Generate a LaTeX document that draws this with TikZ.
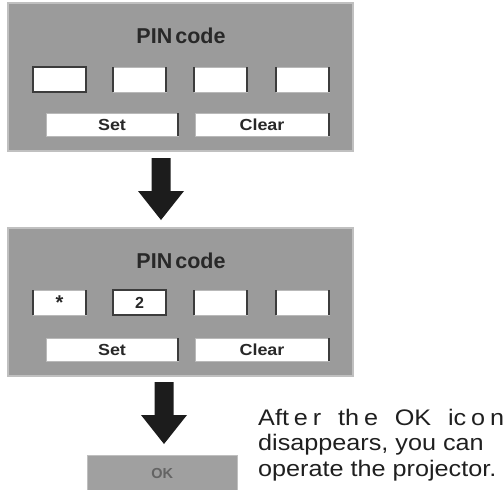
\documentclass[tikz,border=0pt]{standalone}
\usepackage{fontspec}
\setmainfont{Liberation Sans}
\newfontfamily\widefont[FakeStretch=1.12]{Liberation Sans}
\definecolor{panelgray}{RGB}{155,155,155}
\definecolor{panelline}{RGB}{192,192,192}
\definecolor{edgedark}{RGB}{60,60,60}
\definecolor{textdark}{RGB}{40,40,40}
\definecolor{okgray}{RGB}{160,160,160}
\definecolor{oktext}{RGB}{100,100,100}
\definecolor{arrowblack}{RGB}{28,28,28}
\begin{document}
\begin{tikzpicture}[x=1pt,y=-1pt,
  panel/.style={fill=panelgray,draw=panelline,line width=1.4pt,anchor=north west,
    minimum width=345pt,minimum height=148pt,inner sep=0pt,outer sep=0pt},
  entry/.style={fill=white,draw=gray!55,line width=0.5pt,anchor=north west,
    minimum width=53pt,minimum height=25pt,inner sep=0pt,outer sep=0pt,
    font=\bfseries\fontsize{16}{16}\selectfont,text=textdark},
  chosen/.style={entry,draw=edgedark,line width=2.2pt},
  button/.style={fill=white,draw=gray!55,line width=0.5pt,anchor=north west,
    minimum height=23pt,inner sep=0pt,outer sep=0pt,
    font=\widefont\bfseries\fontsize{16}{16}\selectfont,text=textdark},
  title/.style={font=\bfseries\fontsize{21.5}{21.5}\selectfont,text=textdark},
  edgeline/.style={draw=edgedark,line width=1.1pt},
  bigdown/.pic={\fill[arrowblack] (-9.5,0) -- (9.5,0) -- (9.5,33) -- (23,33)
    -- (0,62) -- (-23,33) -- (-9.5,33) -- cycle;}
]
\useasboundingbox (0,0) rectangle (504,490);

% ---- first panel ----
\node[panel] (p1) at (8,3) {};
\node[title] (t1) at (181,35.5) {{\spaceskip=0.14em\relax PIN code}};
\node[chosen] (e11) at (33,67) {};
\node[entry]  (e12) at (113,67) {};
\node[entry]  (e13) at (194,67) {};
\node[entry]  (e14) at (276,67) {};
\node[button,minimum width=132pt] (s1) at (46,113) {Set};
\node[button,minimum width=134pt] (c1) at (195,113) {Clear};

% ---- second panel ----
\node[panel] (p2) at (8,228) {};
\node[title] (t2) at (181,260.5) {{\spaceskip=0.14em\relax PIN code}};
\node[entry]  (e21) at (33,290) {\raisebox{-0.28em}{\fontsize{20}{20}\selectfont *}};
\node[chosen] (e22) at (113,290) {2};
\node[entry]  (e23) at (194,290) {};
\node[entry]  (e24) at (276,290) {};
\node[button,minimum width=132pt] (s2) at (46,338) {Set};
\node[button,minimum width=134pt] (c2) at (195,338) {Clear};

% dark side edges of the fields and buttons
\foreach \n in {e12,e13,e14,e21,e23,e24}{
  \draw[edgeline] (\n.north west) -- (\n.south west);
  \draw[edgeline] (\n.north east) -- (\n.south east);
}
\foreach \n in {s1,c1,s2,c2}{
  \draw[edgeline] (\n.north east) -- (\n.south east);
}

% ---- arrows ----
\coordinate (a1) at (161,158);
\coordinate (a2) at (164,382);
\pic (arrowone) at (a1) {bigdown};
\pic (arrowtwo) at (a2) {bigdown};

% ---- OK icon ----
\node[fill=okgray,draw=gray!50,line width=0.5pt,anchor=north west,
  minimum width=150pt,minimum height=36pt,inner sep=0pt,
  font=\bfseries\fontsize{14.5}{14.5}\selectfont,text=oktext] (ok) at (87,455) {OK};

% ---- explanation ----
\node[anchor=base west,inner sep=0pt,align=left,text=black!88,
  font=\widefont\fontsize{22.5}{25.5}\selectfont] (note) at (258,476)
  {\hbox to 246pt{Aft\hfil e\hfil r \hskip0pt plus 2fil th\hfil e \hskip0pt plus 2fil OK \hskip0pt plus 2fil ic\hfil o\hfil n}\\
   disappears, you can\\
   operate the projector.};
\end{tikzpicture}
\end{document}
